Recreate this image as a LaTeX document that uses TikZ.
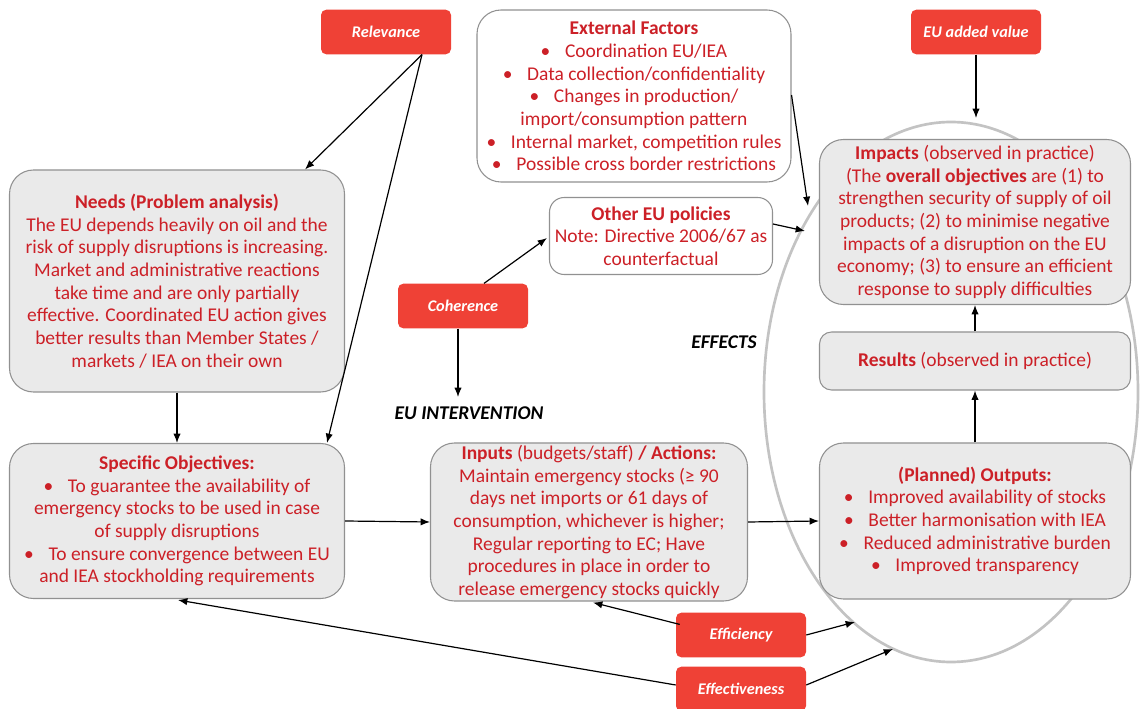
\documentclass[tikz,border=0pt]{standalone}
\usepackage{fontspec}
\setmainfont{Carlito}
\usetikzlibrary{arrows.meta}
\definecolor{txtred}{RGB}{204,32,39}
\definecolor{critred}{RGB}{239,65,54}
\definecolor{boxfill}{RGB}{234,234,234}
\definecolor{boxline}{RGB}{145,145,145}
\definecolor{ovalline}{RGB}{195,195,195}

\begin{document}
\begin{tikzpicture}[x=0.75pt,y=-0.75pt,
    font=\fontsize{14.6}{17}\selectfont,
    gbox/.style={draw=boxline,line width=0.8pt,fill=boxfill,rounded corners=18pt,
      text=txtred,align=center,inner sep=0pt},
    wbox/.style={gbox,fill=white},
    crit/.style={fill=critred,rounded corners=4pt,text=white,inner sep=0pt,
      font=\fontsize{12.2}{14}\selectfont\bfseries\itshape,
      minimum width=97.5pt,minimum height=33.5pt},
    arr/.style={-{Latex[length=7pt,width=5.5pt]},line width=0.9pt},
    tag/.style={font=\fontsize{14.6}{16}\selectfont\bfseries\itshape}]
  \useasboundingbox (0,0) rectangle (1140,709);
  \draw[ovalline,line width=2pt] (951,392) ellipse [x radius=187,y radius=270];

  \node[crit] (rel) at (386,32) {Relevance};
  \node[crit] (eav) at (976,32) {EU added value};
  \node[crit] (coh) at (463,306) {Coherence};
  \node[crit] (eff) at (741,635) {Efficiency};
  \node[crit] (effv) at (741,689) {Effectiveness};

  \node[wbox,minimum width=235.5pt,minimum height=129pt] (ext) at (634,96)
    {\textbf{External Factors}\\
     \textbullet\hspace{11pt}Coordination EU/IEA\\
     \textbullet\hspace{11pt}Data collection/confidentiality\\
     \textbullet\hspace{11pt}Changes in production/\\
     import/consumption pattern\\
     \textbullet\hspace{11pt}Internal market, competition rules\\
     \textbullet\hspace{11pt}Possible cross border restrictions};
  \node[wbox,rounded corners=11pt,minimum width=167.25pt,minimum height=57.75pt] (other) at (661,236)
    {\textbf{Other EU policies}\\
     Note: Directive 2006/67 as\\
     counterfactual};
  \node[gbox,minimum width=251.25pt,minimum height=166.5pt] (needs) at (177,281)
    {\textbf{Needs (Problem analysis)}\\
     The EU depends heavily on oil and the\\
     risk of supply disruptions is increasing.\\
     Market and administrative reactions\\
     take time and are only partially\\
     effective. Coordinated EU action gives\\
     better results than Member States /\\
     markets / IEA on their own};
  \node[gbox,minimum width=251.25pt,minimum height=116.25pt] (spec) at (177,521)
    {\textbf{Specific Objectives:}\\
     \textbullet\hspace{11pt}To guarantee the availability of\\
     emergency stocks to be used in case\\
     of supply disruptions\\
     \textbullet\hspace{11pt}To ensure convergence between EU\\
     and IEA stockholding requirements};
  \node[gbox,minimum width=237.75pt,minimum height=118.5pt] (inputs) at (589,522)
    {\textbf{Inputs} (budgets/staff) \textbf{/ Actions:}\\
     Maintain emergency stocks (≥ 90\\
     days net imports or 61 days of\\
     consumption, whichever is higher;\\
     Regular reporting to EC; Have\\
     procedures in place in order to\\
     release emergency stocks quickly};
  \node[gbox,minimum width=233.25pt,minimum height=117pt] (outputs) at (975,521)
    {\textbf{(Planned) Outputs:}\\
     \textbullet\hspace{11pt}Improved availability of stocks\\
     \textbullet\hspace{11pt}Better harmonisation with IEA\\
     \textbullet\hspace{11pt}Reduced administrative burden\\
     \textbullet\hspace{11pt}Improved transparency};
  \node[gbox,rounded corners=9pt,minimum width=233.25pt,minimum height=43.5pt] (results) at (975,361)
    {\textbf{Results} (observed in practice)};
  \node[gbox,minimum width=233.25pt,minimum height=123.75pt] (impacts) at (975,222)
    {\textbf{Impacts} (observed in practice)\\
     (The \textbf{overall objectives} are (1) to\\
     strengthen security of supply of oil\\
     products; (2) to minimise negative\\
     impacts of a disruption on the EU\\
     economy; (3) to ensure an efficient\\
     response to supply difficulties};

  \node[tag] (effects) at (724,342) {EFFECTS};
  \node[tag] (intv) at (469,413) {EU INTERVENTION};

  \coordinate (eavtip) at (976,118);
  \coordinate (exttip) at (808,206);
  \coordinate (othtip) at (805,231);
  \coordinate (intvtip) at (458,397);
  \coordinate (efftip) at (855,622);
  \coordinate (effvtip) at (893,649);

  \draw[arr] ([shift={(36,0)}]rel.south) -- ([shift={(128,0)}]needs.north);
  \draw[arr] ([shift={(36,0)}]rel.south) -- ([shift={(150,0)}]spec.north);
  \draw[arr] (eav.south) -- (eavtip);
  \draw[arr] ([shift={(0,-1)}]ext.east) -- (exttip);
  \draw[arr] ([shift={(0,-12)}]other.east) -- (othtip);
  \draw[arr] ([shift={(21,0)}]coh.north) -- ([shift={(-2,2)}]other.west);
  \draw[arr] ([shift={(-5,0)}]coh.south) -- (intvtip);
  \draw[arr] (needs.south) -- (spec.north);
  \draw[arr] (spec.east) -- (inputs.west);
  \draw[arr] (inputs.east) -- (outputs.west);
  \draw[arr] (outputs.north) -- (results.south);
  \draw[arr] (results.north) -- (impacts.south);
  \draw[arr] ([shift={(4,12)}]eff.north west) -- ([shift={(4,1)}]inputs.south);
  \draw[arr] (eff.east) -- (efftip);
  \draw[arr] ([shift={(0,-4)}]effv.west) -- ([shift={(1,1)}]spec.south);
  \draw[arr] ([shift={(0,-4)}]effv.east) -- (effvtip);
\end{tikzpicture}
\end{document}
